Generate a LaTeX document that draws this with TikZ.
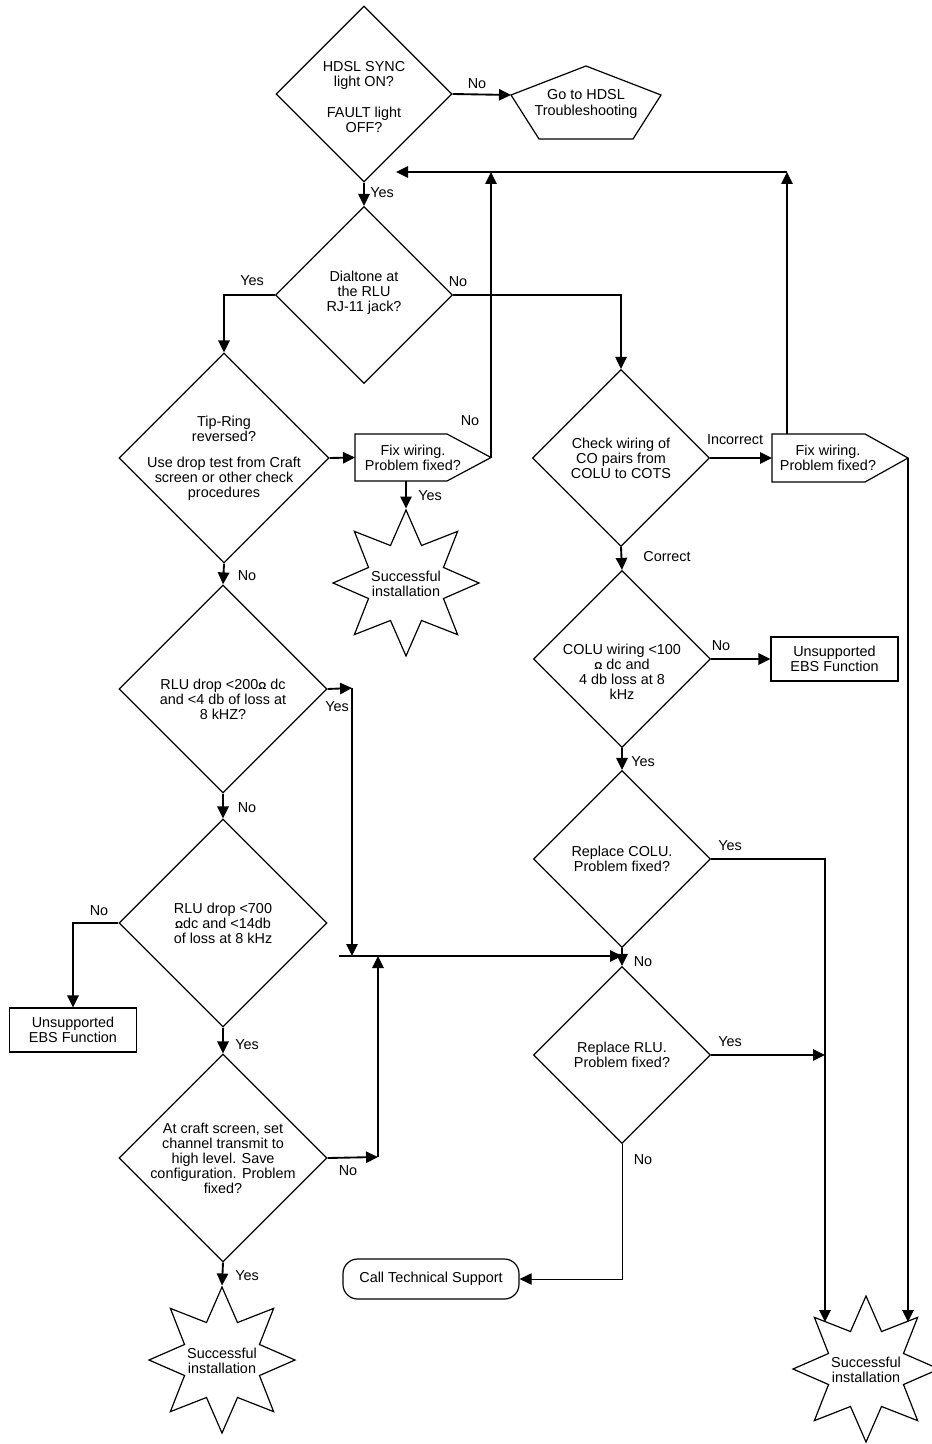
\documentclass[tikz,border=0pt]{standalone}
\usepackage{fontspec}
\setmainfont{Liberation Sans}
\usetikzlibrary{arrows.meta,shapes.geometric}

\begin{document}
\begin{tikzpicture}[x=0.75pt, y=-0.75pt,
  font=\fontsize{10.8}{11.3}\selectfont,
  shp/.style={draw, line width=0.9pt},
  dia/.style={shp, diamond, inner sep=0pt, minimum size=#1*0.75pt},
  txt/.style={align=center, inner sep=0pt},
  box/.style={shp, rectangle, align=center, minimum width=127*0.75pt, minimum height=44*0.75pt},
  okstar/.style={shp, star, star points=8, star point ratio=1.8, inner sep=0pt, minimum size=146*0.75pt},
  con/.style={line width=1.4pt, -{Triangle[length=9pt, width=8.5pt]}},
  lbl/.style={inner sep=0pt}]
\useasboundingbox (0,0) rectangle (931,1444);

% left column
\node[dia=176] (hdsl) at (364,94) {};
\node[txt] (hdsl-t) at (364,97) {HDSL SYNC\\light ON?\\[11.3pt]FAULT light\\OFF?};
\node[txt] (goto) at (586,104) {Go to HDSL\\Troubleshooting};
\draw[shp] (511,95) coordinate (goto-w) -- (586,66) -- (661,95) -- (633,139) -- (539,139) -- cycle;
\node[dia=177] (dial) at (364,295) {};
\node[txt] (dial-t) at (364,293) {Dialtone at\\the RLU\\RJ-11 jack?};
\node[dia=210] (tip) at (224,458) {};
\node[txt] (tip-t) at (tip) {Tip-Ring\\reversed?\\[8.2pt]Use drop test from Craft\\screen or other check\\procedures};
\node[txt] (fix1) at (413,457.5) {Fix wiring.\\Problem fixed?};
\draw[shp] (355,434) -- (447,434) -- (491,457.5) coordinate (fix1-e) -- (447,481) -- (355,481) -- cycle;
\coordinate (fix1-w) at (355,457.5);
\coordinate (fix1-s) at (406,481);
\node[okstar] (ok1) at (406,583) {};
\node[txt] (ok1-t) at (406,584) {Successful\\installation};
\node[dia=208] (rlu2) at (223,689) {};
\node[txt] (rlu2-t) at (223,699) {RLU drop <200{\fontsize{7.5}{7}\selectfont\bfseries Ω} dc\\and <4 db of loss at\\8 kHZ?};
\node[dia=208] (rlu7) at (223,923) {};
\node[txt] (rlu7-t) at (rlu7) {RLU drop <700\\{\fontsize{7.5}{7}\selectfont\bfseries Ω}dc and <14db\\of loss at 8 kHz};
\node[box] (unsL) at (73,1030) {Unsupported\\EBS Function};
\node[dia=208] (craft) at (223,1158) {};
\node[txt] (craft-t) at (craft) {At craft screen, set\\channel transmit to\\high level. Save\\configuration. Problem\\fixed?};
\node[okstar] (ok2) at (222,1360) {};
\node[txt] (ok2-t) at (222,1361) {Successful\\installation};

% right column
\node[dia=177] (chk) at (621,458) {};
\node[txt] (chk-t) at (chk) {Check wiring of\\CO pairs from\\COLU to COTS};
\node[txt] (fix2) at (828,458) {Fix wiring.\\Problem fixed?};
\draw[shp] (772,434) -- (865,434) -- (908,458) coordinate (fix2-e) -- (865,482) -- (772,482) -- cycle;
\coordinate (fix2-w) at (772,458);
\coordinate (fix2-n) at (787,434);
\node[dia=177] (colu) at (622,659) {};
\node[txt] (colu-t) at (622,672) {COLU wiring <100\\{\fontsize{7.5}{7}\selectfont\bfseries Ω} dc and\\4 db loss at 8\\kHz};
\node[box] (unsR) at (834.5,659) {Unsupported\\EBS Function};
\node[dia=177] (rcolu) at (622,859) {};
\node[txt] (rcolu-t) at (rcolu) {Replace COLU.\\Problem fixed?};
\node[dia=177] (rrlu) at (622,1055) {};
\node[txt] (rrlu-t) at (rrlu) {Replace RLU.\\Problem fixed?};
\node[shp, rounded corners=11pt, minimum width=176*0.75pt, minimum height=40*0.75pt] (cts) at (431,1279) {Call Technical Support};
\node[okstar] (ok3) at (866,1369) {};
\node[txt] (ok3-t) at (866,1370) {Successful\\installation};

\coordinate (back) at (396,172);
\coordinate (rt) at (787,172);
\coordinate (j1) at (352,688);
\coordinate (j2) at (352,956);
\coordinate (m0) at (339,956);
\coordinate (m1) at (622,956);
\coordinate (j4) at (378,1157);
\coordinate (j5) at (378,956);
\coordinate (rv) at (825,1322);

\draw[con] (hdsl.east) -- (goto-w);
\draw[con] (hdsl.south) -- (dial.north);
\draw[con] (dial.west) -| (tip.north);
\draw[con] (dial.east) -| (chk.north);
\draw[con] (tip.east) -- (fix1-w);
\draw[con] (fix1-e) -- (fix1-e |- back);
\draw[con] (fix1-s) -- (ok1.north);
\draw[con] (fix2-n) -- (rt);
\draw[con] (rt) -- (back);
\draw[con] (tip.south) -- (rlu2.north);
\draw[con] (rlu2.east) -- (j1);
\draw[con] (j1) -- (j2);
\draw[con] (m0) -- (m1);
\draw[con] (rlu2.south) -- (rlu7.north);
\draw[con] (rlu7.west) -| (unsL.north);
\draw[con] (rlu7.south) -- (craft.north);
\draw[con] (craft.east) -- (j4);
\draw[con] (j4) -- (j5);
\draw[con] (craft.south) -- (ok2.north);
\draw[con] (chk.east) -- (fix2-w);
\draw[con] (fix2-e) -- (fix2-e |- rv);
\draw[con] (chk.south) -- (colu.north);
\draw[con] (colu.east) -- (unsR.west);
\draw[con] (colu.south) -- (rcolu.north);
\draw[con] (rcolu.east) -| (rv);
\draw[con] (rcolu.south) -- (rrlu.north);
\draw[con] (rrlu.east) -- (rrlu.east -| rv);
\draw[con, line width=0.7pt] (rrlu.south) |- (cts.east);

\foreach \x/\y/\t [count=\i] in {477/84/No, 382/193/Yes, 252/281/Yes, 458/282/No,
    470/421/No, 430/496/Yes, 247/576/No, 337/707/Yes, 247/808/No, 99/911/No,
    247/1045/Yes, 348/1171/No, 247/1276/Yes, 735/440/Incorrect, 667/557/Correct,
    721/646/No, 643/762/Yes, 730/846/Yes, 643/962/No, 730/1042/Yes, 643/1160/No}
  \node[lbl] (lab\i) at (\x,\y) {\t};
\end{tikzpicture}
\end{document}
